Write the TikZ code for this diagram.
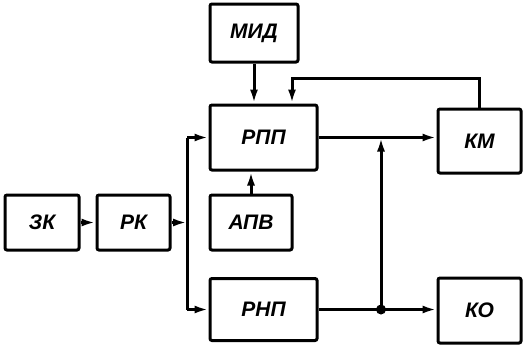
\documentclass[tikz,border=0pt]{standalone}
\usepackage{fontspec}
\setmainfont{Liberation Sans}
\usetikzlibrary{arrows.meta,calc}

\tikzset{
    block/.style={draw, line width=3pt, rounded corners=2pt, inner sep=0pt,
        font=\fontsize{21}{21}\selectfont\bfseries\itshape},
    link/.style={line width=3pt},
    arr/.style={link, -{Latex[length=14pt,width=8pt]}}
}

\begin{document}
\begin{tikzpicture}[x=1pt, y=-1pt]
    \useasboundingbox (0,0) rectangle (529,348);

    % Blocks
    \node[block, minimum width=74pt, minimum height=55pt] (zk) at (42,222.5) {ЗК};
    \node[block, minimum width=73pt, minimum height=55pt] (rk) at (133.5,222.5) {РК};
    \node[block, minimum width=88pt, minimum height=58pt] (mid) at (254,33) {МИД};
    \node[block, minimum width=107pt, minimum height=65pt] (rpp) at (263.5,137.5) {РПП};
    \node[block, minimum width=82pt, minimum height=55pt] (apv) at (251,222.5) {АПВ};
    \node[block, minimum width=107pt, minimum height=62pt] (rnp) at (263.5,309.5) {РНП};
    \node[block, minimum width=83pt, minimum height=64pt] (km) at (479.5,141) {КМ};
    \node[block, minimum width=83pt, minimum height=65pt] (ko) at (479.5,310.5) {КО};

    % Helper points
    \coordinate (busx) at (187,0);
    \coordinate (dot) at (381,309.5);
    \coordinate (fb) at (292,78);

    % Input side
    \draw[arr] (zk) -- (rk);
    \draw[arr] (rk) -- (rk -| busx);
    \draw[link] (busx |- rpp.west) -- (busx |- rnp.west);
    \draw[arr] (busx |- rpp.west) -- (rpp.west);
    \draw[arr] (busx |- rnp.west) -- (rnp.west);

    % Into RPP from above and below
    \draw[arr] (mid.south) -- (mid.south |- rpp.north);
    \draw[arr] (apv.north) -- (apv.north |- rpp.south);
    \draw[arr] (km.north) |- (fb) -- (fb |- rpp.north);

    % Outputs
    \draw[arr] (rpp.east) -- (rpp.east -| km.west);
    \draw[arr] (rnp.east) -- (rnp.east -| ko.west);
    \draw[arr] (dot) -- (dot |- rpp.east);
    \fill (dot) circle (5pt);

\end{tikzpicture}
\end{document}
